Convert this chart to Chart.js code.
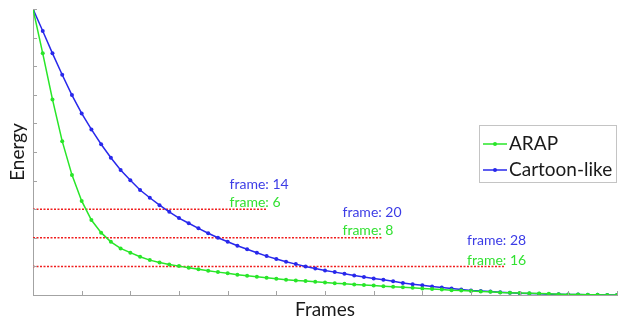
<!DOCTYPE html>
<html>
<head>
<meta charset="utf-8">
<script src="https://cdn.jsdelivr.net/npm/chart.js@4/dist/chart.umd.min.js"></script>
<style>
  html, body { margin: 0; padding: 0; background: #fff; }
  #wrap { width: 621px; height: 320px; }
</style>
</head>
<body>
<div id="wrap"><canvas id="chart" width="621" height="320"></canvas></div>
<script>
var frames = [0,1,2,3,4,5,6,7,8,9,10,11,12,13,14,15,16,17,18,19,20,
  21,22,23,24,25,26,27,28,29,30,31,32,33,34,35,36,37,38,39,40,
  41,42,43,44,45,46,47,48,49,50,51,52,53,54,55,56,57,58,59,60];

var arap = [10.00,8.45,6.84,5.38,4.20,3.29,2.62,2.18,1.86,1.63,1.48,
  1.34,1.22,1.14,1.07,1.01,0.95,0.90,0.85,0.80,0.76,
  0.71,0.67,0.64,0.60,0.57,0.53,0.51,0.49,0.46,0.44,
  0.41,0.39,0.37,0.35,0.33,0.31,0.29,0.27,0.25,0.23,
  0.21,0.19,0.17,0.16,0.14,0.12,0.11,0.09,0.08,0.07,
  0.06,0.05,0.04,0.03,0.02,0.02,0.01,0.01,0.00,0.00];

var cartoon = [10.00,9.23,8.45,7.70,6.99,6.35,5.79,5.27,4.80,4.37,4.01,
  3.67,3.40,3.14,2.91,2.69,2.51,2.33,2.16,2.00,1.86,
  1.72,1.60,1.48,1.36,1.26,1.16,1.08,1.00,0.93,0.86,
  0.80,0.74,0.68,0.63,0.58,0.53,0.48,0.42,0.38,0.34,
  0.30,0.26,0.23,0.19,0.16,0.14,0.12,0.10,0.08,0.06,
  0.05,0.04,0.03,0.03,0.02,0.02,0.01,0.01,0.00,0.00];

// energy thresholds (red dashed lines) and the frame where each dashed line stops
var thresholds = [3, 2, 1];
var thresholdEnds = [24, 35.8, 48.4];

// frame labels written next to each threshold
var cartoonFrames = [14, 20, 28];
var arapFrames = [6, 8, 16];

var green = 'rgb(40,230,40)';
var blue = 'rgb(40,40,235)';
var red = 'rgb(240,30,30)';
var axisGrey = '#a3a3a3';
var fontFamily = 'Lato, "Liberation Sans", sans-serif';

function toPoints(values) {
  return values.map(function (v, i) { return {x: frames[i], y: v}; });
}

var datasets = [
  {label: 'ARAP', data: toPoints(arap), borderColor: green, backgroundColor: green,
   borderWidth: 1.5, pointRadius: 2, pointBorderWidth: 0, order: 0},
  {label: 'Cartoon-like', data: toPoints(cartoon), borderColor: blue, backgroundColor: blue,
   borderWidth: 1.5, pointRadius: 2, pointBorderWidth: 0, order: 0}
];
thresholds.forEach(function (t, i) {
  datasets.push({label: 'threshold', data: [{x: 0, y: t}, {x: thresholdEnds[i], y: t}],
    borderColor: red, borderWidth: 1.5, borderDash: [2, 1.5], pointRadius: 0, order: 1});
});

// anchors (in data units) of the frame labels
var notes = [
  {text: 'frame: ' + cartoonFrames[0], color: 'rgb(60,60,230)', x: 20.2, y: 3.85},
  {text: 'frame: ' + arapFrames[0], color: 'rgb(50,225,50)', x: 20.2, y: 3.22},
  {text: 'frame: ' + cartoonFrames[1], color: 'rgb(60,60,230)', x: 31.8, y: 2.87},
  {text: 'frame: ' + arapFrames[1], color: 'rgb(50,225,50)', x: 31.8, y: 2.24},
  {text: 'frame: ' + cartoonFrames[2], color: 'rgb(60,60,230)', x: 44.6, y: 1.89},
  {text: 'frame: ' + arapFrames[2], color: 'rgb(50,225,50)', x: 44.6, y: 1.22}
];

var extras = {
  id: 'extras',
  afterDraw: function (chart) {
    var c = chart.ctx;
    var xs = chart.scales.x, ys = chart.scales.y;
    c.save();
    // inward tick marks
    c.strokeStyle = axisGrey;
    c.lineWidth = 1;
    c.beginPath();
    xs.ticks.forEach(function (t) {
      var px = Math.round(xs.getPixelForValue(t.value)) + 0.5;
      c.moveTo(px, ys.bottom);
      c.lineTo(px, ys.bottom - 4);
    });
    ys.ticks.forEach(function (t) {
      var py = Math.round(ys.getPixelForValue(t.value)) + 0.5;
      c.moveTo(xs.left, py);
      c.lineTo(xs.left + 4, py);
    });
    c.stroke();

    // frame labels
    c.font = '14px ' + fontFamily;
    c.textAlign = 'left';
    c.textBaseline = 'middle';
    notes.forEach(function (n) {
      c.fillStyle = n.color;
      c.fillText(n.text, xs.getPixelForValue(n.x), ys.getPixelForValue(n.y));
    });

    // legend box
    var bx = 479.5, by = 125.5, bw = 137, bh = 57;
    c.fillStyle = '#fff';
    c.fillRect(bx, by, bw, bh);
    c.strokeStyle = '#c4c4c4';
    c.strokeRect(bx, by, bw, bh);
    c.font = '19px ' + fontFamily;
    chart.data.datasets.slice(0, 2).forEach(function (ds, i) {
      var y = 144 + i * 26;
      c.strokeStyle = ds.borderColor;
      c.lineWidth = 1.5;
      c.beginPath();
      c.moveTo(483, y);
      c.lineTo(507, y);
      c.stroke();
      c.fillStyle = ds.borderColor;
      c.beginPath();
      c.arc(495, y, 2, 0, Math.PI * 2);
      c.fill();
      c.fillStyle = '#1a1a1a';
      c.fillText(ds.label, 509, y);
    });
    c.restore();
  }
};

new Chart(document.getElementById('chart').getContext('2d'), {
  type: 'line',
  data: {datasets: datasets},
  options: {
    responsive: false,
    animation: false,
    layout: {padding: {left: 0, right: 1, top: 9, bottom: 0}},
    plugins: {legend: {display: false}, tooltip: {enabled: false}},
    scales: {
      x: {
        type: 'linear', min: 0, max: 60,
        ticks: {display: false, stepSize: 5},
        grid: {display: false},
        border: {display: true, color: axisGrey, width: 1},
        title: {display: true, text: 'Frames', color: '#1a1a1a',
          font: {family: fontFamily, size: 19, lineHeight: 1}, padding: {top: 0, bottom: 1}},
        afterFit: function (s) { s.height = 25; }
      },
      y: {
        min: 0, max: 10,
        ticks: {display: false, stepSize: 1},
        grid: {display: false},
        border: {display: true, color: axisGrey, width: 1},
        title: {display: true, text: 'Energy', color: '#1a1a1a',
          font: {family: fontFamily, size: 19, lineHeight: 1}, padding: {top: 8, bottom: 0}},
        afterFit: function (s) { s.width = 33; }
      }
    }
  },
  plugins: [extras]
});
</script>
</body>
</html>
